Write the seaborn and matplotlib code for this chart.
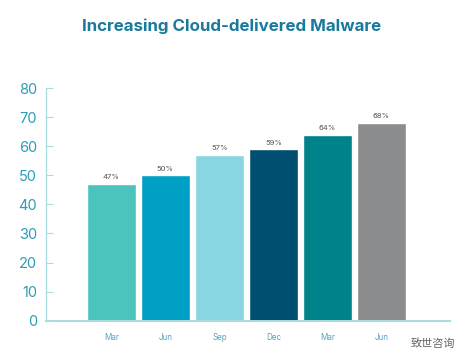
import matplotlib
matplotlib.use("Agg")
import matplotlib.pyplot as plt
import pandas as pd
import seaborn as sns

months = ["Mar", "Jun", "Sep", "Dec", "Mar ", "Jun "]
values = [47, 50, 57, 59, 64, 68]
bar_colors = ["#4BC4BE", "#00A0C4", "#88D6E2", "#004F71", "#00828A", "#8A8C8E"]
y_ticks = [0, 10, 20, 30, 40, 50, 60, 70, 80]

sns.set_theme(style="white")
plt.rcParams["font.family"] = ["Inter", "Noto Sans CJK SC", "DejaVu Sans"]

df = pd.DataFrame({"month": months, "share": values})

fig = plt.figure(figsize=(4.7, 3.64), dpi=100)
ax = fig.add_axes([45.5 / 470, 43.3 / 364, 404.5 / 470, 232.7 / 364])

sns.barplot(data=df, x="month", y="share", hue="month", palette=bar_colors,
            legend=False, width=0.9, saturation=1, ax=ax)

for i, v in enumerate(values):
    ax.text(i, v + 1.2, f"{v}%", ha="center", va="bottom", fontsize=5.5, color="#555555")

ax.set_xlim(-1.22, 6.27)
ax.set_ylim(0, 80)
ax.set_yticks(y_ticks)
ax.set_xlabel("")
ax.set_ylabel("")
ax.set_xticks(range(len(months)))
ax.set_xticklabels([m.strip() for m in months])
ax.tick_params(axis="x", bottom=False, length=0, pad=9, labelsize=5.8, labelcolor="#5BA3BC")
ax.tick_params(axis="y", left=True, direction="in", length=5, width=0.8, color="#A9DCE0",
               pad=6, labelsize=10.5, labelcolor="#2C9DB5")

sns.despine(ax=ax)
for side in ["left", "bottom"]:
    ax.spines[side].set_color("#A9DCE0")
ax.spines["left"].set_linewidth(0.9)
ax.spines["bottom"].set_linewidth(1.4)

fig.text(232 / 470, 1 - 26 / 364, "Increasing Cloud-delivered Malware", ha="center", va="center",
         fontsize=12.2, fontweight="bold", color="#1B7A9C")
fig.text(433 / 470, 1 - 344 / 364, "致世咨询", ha="center", va="center", fontsize=8,
         color="#666666")

fig.savefig("out.png", dpi=100)
